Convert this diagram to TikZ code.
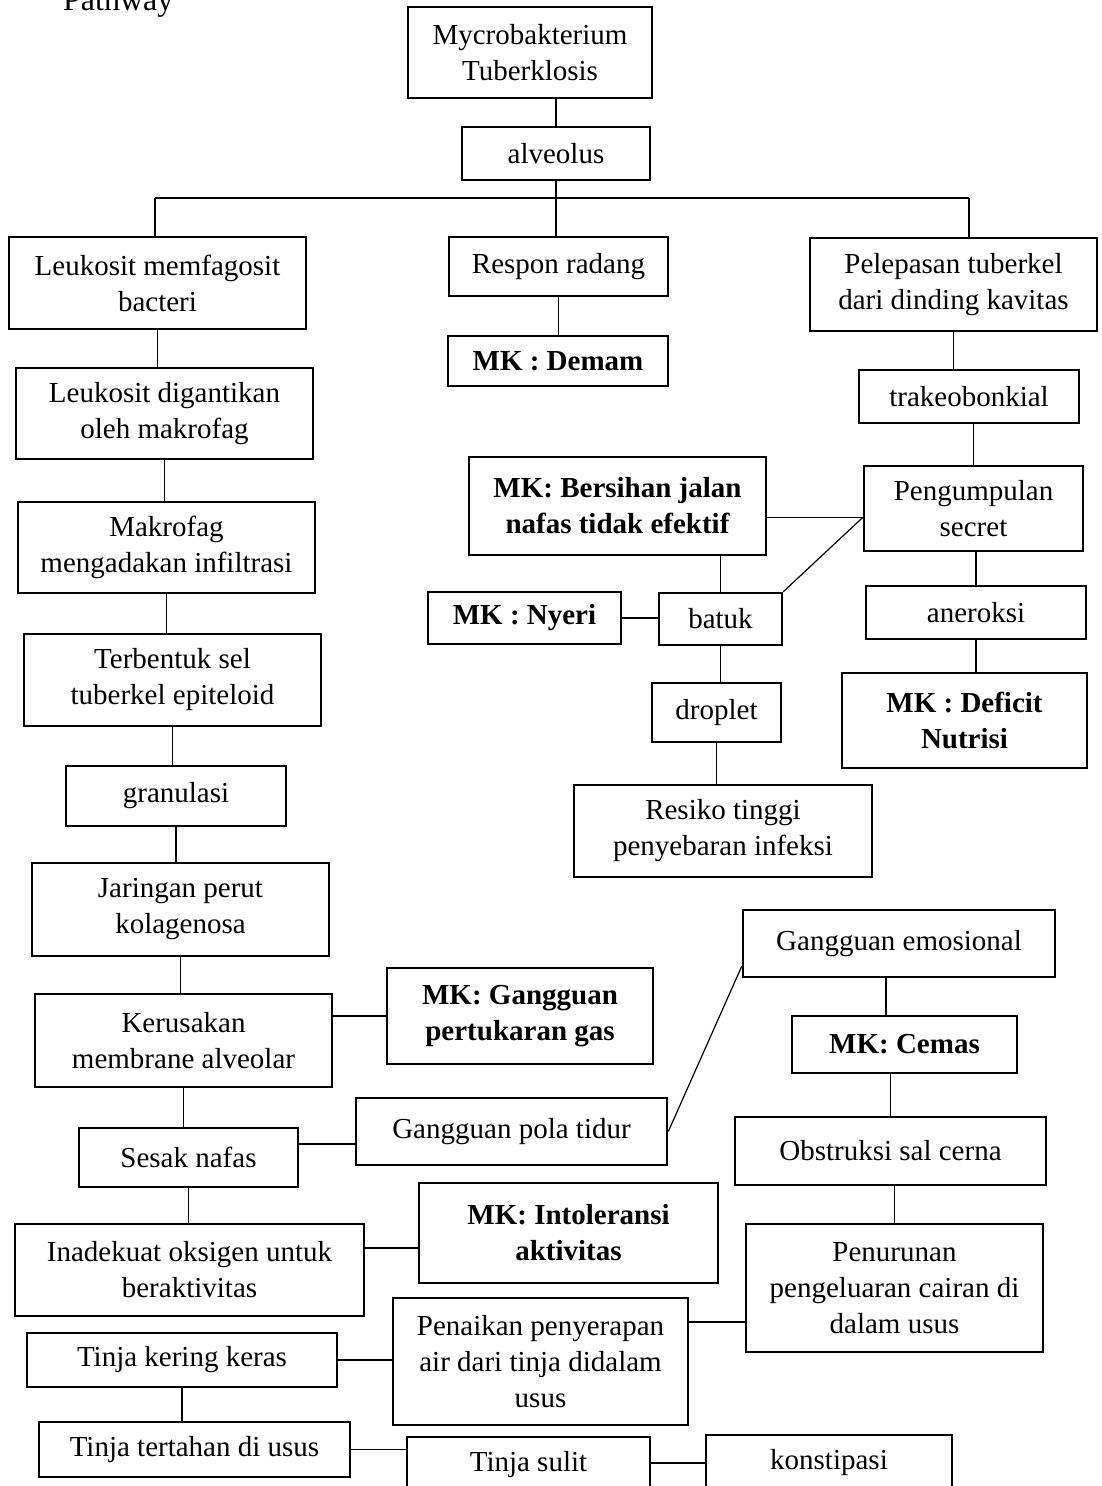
\documentclass[tikz,border=0pt]{standalone}
\usepackage{fontspec}
\setmainfont{Liberation Serif}
\usetikzlibrary{calc}

\begin{document}
\begin{tikzpicture}[
  x=1pt, y=-1pt,
  box/.style={draw, line width=2.6pt, align=center, inner sep=0pt,
    font=\fontsize{29}{36}\selectfont},
  mk/.style={box, font=\fontsize{29}{36}\selectfont\bfseries},
  sz/.style 2 args={minimum width=#1pt, minimum height=#2pt},
  link/.style={line width=1.2pt},
]
  \useasboundingbox (0,0) rectangle (1101,1486);

  \node[anchor=base west, inner sep=0pt, font=\fontsize{32}{38}\selectfont] (title) at (63,10) {Pathway};

  \node[box, sz={244}{91}] (myco) at (530,52.5) {Mycrobakterium\\Tuberklosis};
  \node[box, sz={188}{53}] (alveolus) at (556,153.5) {alveolus};

  \node[box, sz={297}{92}] (leukA) at (157.5,283) {Leukosit memfagosit\\bacteri};
  \node[box, sz={297}{91}] (leukB) at (164.5,413.5) {Leukosit digantikan\\oleh makrofag};
  \node[box, sz={297}{91}] (makro) at (166.5,547.5) {Makrofag\\mengadakan infiltrasi};
  \node[box, sz={297}{92}] (terbentuk) at (172.5,680) {Terbentuk sel\\tuberkel epiteloid};
  \node[box, sz={220}{60}] (granulasi) at (176,796) {granulasi};
  \node[box, sz={297}{93}] (jaringan) at (180.5,909.5) {Jaringan perut\\kolagenosa};
  \node[box, sz={297}{93}] (kerusakan) at (183.5,1040.5) {Kerusakan\\membrane alveolar};
  \node[box, sz={219}{59}] (sesak) at (188.5,1157.5) {Sesak nafas};
  \node[box, sz={349}{92}] (inadekuat) at (189.5,1270) {Inadekuat oksigen untuk\\beraktivitas};
  \node[box, sz={310}{54}] (kering) at (182,1360) {Tinja kering keras};
  \node[box, sz={311}{55}] (tertahan) at (194.5,1449.5) {Tinja tertahan di usus};

  \node[box, sz={219}{59}] (respon) at (558.5,266.5) {Respon radang};
  \node[mk, sz={220}{50}] (demam) at (558,361) {MK : Demam};

  \node[box, sz={287}{93}] (pelepasan) at (953.5,284.5) {Pelepasan tuberkel\\dari dinding kavitas};
  \node[box, sz={220}{53}] (trakeo) at (969,396.5) {trakeobonkial};
  \node[box, sz={219}{85}] (peng) at (973.5,508.5) {Pengumpulan\\secret};
  \node[mk, sz={297}{98}] (bersihan) at (617.5,506) {MK: Bersihan jalan\\nafas tidak efektif};
  \node[box, sz={123}{52}] (batuk) at (720.5,619) {batuk};
  \node[mk, sz={193}{52}] (nyeri) at (524.5,618) {MK : Nyeri};
  \node[box, sz={220}{53}] (aneroksi) at (976,612.5) {aneroksi};
  \node[mk, sz={245}{95}] (deficit) at (964.5,720.5) {MK : Deficit\\Nutrisi};
  \node[box, sz={129}{59}] (droplet) at (716.5,712.5) {droplet};
  \node[box, sz={298}{92}] (resiko) at (723,831) {Resiko tinggi\\penyebaran infeksi};

  \node[mk, sz={266}{96}] (mkGas) at (520,1016) {MK: Gangguan\\pertukaran gas};
  \node[box, sz={311}{67}] (polaTidur) at (511.5,1131.5) {Gangguan pola tidur};
  \node[box, sz={312}{67}] (emosi) at (899,943.5) {Gangguan emosional};
  \node[mk, sz={225}{57}] (cemas) at (904.5,1044.5) {MK: Cemas};
  \node[box, sz={311}{68}] (obstruksi) at (890.5,1151) {Obstruksi sal cerna};
  \node[mk, sz={299}{100}] (intoleransi) at (568.5,1233) {MK: Intoleransi\\aktivitas};
  \node[box, sz={297}{128}] (penurunan) at (894.5,1288) {Penurunan\\pengeluaran cairan di\\dalam usus};
  \node[box, sz={295}{127}] (penaikan) at (540.5,1361.5) {Penaikan penyerapan\\air dari tinja didalam\\usus};
  \node[box, sz={243}{56}] (sulit) at (528.5,1465) {Tinja sulit};
  \node[box, sz={246}{56}] (konstipasi) at (829,1463) {konstipasi};

  \coordinate (jl) at (155,198);
  \coordinate (jr) at (969,198);
  \draw[link] (alveolus.north) -- (alveolus.north |- myco.south);
  \draw[link] (alveolus.south) -- (alveolus.south |- respon.north);
  \draw[link] (jl) -- (jr);
  \draw[link] (jl) -- (jl |- leukA.north);
  \draw[link] (jr) -- (jr |- pelepasan.north);
  \draw[link] (respon.south) -- (respon.south |- demam.north);

  \foreach \a/\b in {leukA/leukB, leukB/makro, makro/terbentuk, terbentuk/granulasi,
    granulasi/jaringan, jaringan/kerusakan, kerusakan/sesak, sesak/inadekuat,
    kering/tertahan, pelepasan/trakeo, batuk/droplet, droplet/resiko, aneroksi/deficit}
    \draw[link] (\a.south) -- (\a.south |- \b.north);
  \foreach \a/\b in {trakeo/peng, peng/aneroksi, bersihan/batuk, cemas/obstruksi,
    obstruksi/penurunan}
    \draw[link] (\b.north) -- (\b.north |- \a.south);

  \coordinate (pj) at ([yshift=-9pt]peng.west);
  \draw[link] (pj) -- (pj -| bersihan.east);
  \draw[link] (pj) -- (batuk.north east);
  \draw[link] (nyeri.east) -- (nyeri.east -| batuk.west);

  \draw[link] (mkGas.west) -- (mkGas.west -| kerusakan.east);
  \draw[link] ([yshift=-12.5pt]polaTidur.west) -- ([yshift=-12.5pt]polaTidur.west -| sesak.east);
  \draw[link] (polaTidur.east) -- ([yshift=12pt]emosi.south west);
  \draw[link] ([xshift=-13pt]emosi.south) -- ([xshift=-13pt]emosi.south |- cemas.north);
  \draw[link] ([yshift=-15pt]intoleransi.west) -- ([yshift=-15pt]intoleransi.west -| inadekuat.east);
  \draw[link] ([yshift=-34pt]penurunan.west) -- ([yshift=-34pt]penurunan.west -| penaikan.east);
  \draw[link] (kering.east) -- (kering.east -| penaikan.west);
  \draw[link] (tertahan.east) -- (tertahan.east -| sulit.west);
  \draw[link] (konstipasi.west) -- (konstipasi.west -| sulit.east);
\end{tikzpicture}
\end{document}
